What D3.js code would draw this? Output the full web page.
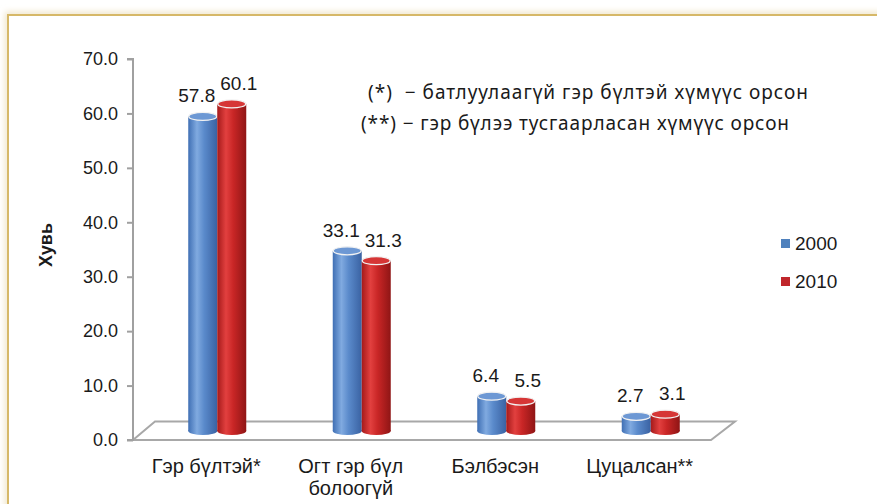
<!DOCTYPE html>
<html>
<head>
<meta charset="utf-8">
<script src="https://cdn.jsdelivr.net/npm/d3@7"></script>
<style>
  body { margin: 0; background: #fff; }
  text { font-family: "Liberation Sans", Arial, sans-serif; fill: #1a1a1a; }
</style>
</head>
<body>
<div id="chart"></div>
<script>
// Data
var categories = [["Гэр бүлтэй*"], ["Огт гэр бүл", "болоогүй"], ["Бэлбэсэн"], ["Цуцалсан**"]];
var series = ["2000", "2010"];
var values2000 = [57.8, 33.1, 6.4, 2.7];
var values2010 = [60.1, 31.3, 5.5, 3.1];
var yTicks = [0, 10, 20, 30, 40, 50, 60, 70];
var notes = ["(*)  \u2212 батлуулаагүй гэр бүлтэй хүмүүс орсон", "(**) \u2212 гэр бүлээ тусгаарласан хүмүүс орсон"];

var svgWidth = 877, svgHeight = 504;
var margin = { top: 59, left: 133, right: 166, bottom: 64 };
var width = svgWidth - margin.left - margin.right;
var height = svgHeight - margin.top - margin.bottom;

// 3d depth of the floor
var depthX = 22, depthY = -18.5;

var svg = d3.select("#chart").append("svg")
  .attr("width", svgWidth)
  .attr("height", svgHeight);

var defs = svg.append("defs");

// frame shadow + golden border
var sh = defs.append("filter").attr("id", "soft").attr("x", "-5%").attr("y", "-5%").attr("width", "110%").attr("height", "110%");
sh.append("feGaussianBlur").attr("stdDeviation", 3);
svg.append("rect").attr("x", 8).attr("y", 15).attr("width", 900).attr("height", 520)
  .attr("fill", "none").attr("stroke", "#efe3c4").attr("stroke-width", 6).attr("filter", "url(#soft)");
svg.append("rect").attr("x", 8).attr("y", 15).attr("width", 900).attr("height", 520)
  .attr("fill", "#fff").attr("stroke", "#d6b868").attr("stroke-width", 2);

// gradients for cylinders
function cylGrad(id, stops) {
  var g = defs.append("linearGradient").attr("id", id).attr("x1", "0%").attr("x2", "100%");
  stops.forEach(function (s) { g.append("stop").attr("offset", s[0]).attr("stop-color", s[1]); });
}
cylGrad("g2000", [["0%", "#3f6fb4"], ["30%", "#80aae0"], ["55%", "#5a8acb"], ["100%", "#3a62a2"]]);
cylGrad("g2010", [["0%", "#a51a1a"], ["30%", "#e2403f"], ["55%", "#c92626"], ["100%", "#8f1515"]]);
var topFill = { "2000": "#6d98d4", "2010": "#d63636" };
var legendFill = { "2000": "#4f81bd", "2010": "#c0262b" };

var chartGroup = svg.append("g").attr("transform", `translate(${margin.left}, ${margin.top})`);

// Scales
var x0 = d3.scaleBand().domain(d3.range(categories.length)).range([0, 578]);
var x1 = d3.scaleBand().domain(series).range([-29, 29]);
var yScale = d3.scaleLinear().domain([0, 70]).range([height, 0]);

// Floor
var y0 = yScale(0);
var floor = [[0, y0], [578, y0], [578 + depthX + 2, y0 + depthY], [depthX, y0 + depthY]];
chartGroup.append("path")
  .attr("d", "M" + floor.join("L") + "Z")
  .attr("fill", "#fff").attr("stroke", "#a8a8a8").attr("stroke-width", 2);

// Y axis
var leftAxis = d3.axisLeft(yScale).tickValues(yTicks).tickFormat(d3.format(".1f")).tickSize(6).tickPadding(9);
var yAxisG = chartGroup.append("g").call(leftAxis);
yAxisG.select(".domain").attr("stroke", "#a0a0a0").attr("stroke-width", 2).attr("d", `M-6,0H0V${y0}H-6`);
yAxisG.selectAll(".tick line").attr("stroke", "#a0a0a0").attr("stroke-width", 2);
yAxisG.selectAll(".tick text").style("font-size", "18px").attr("fill", "#1a1a1a");

// Bars (cylinders) at half depth
var bx = 12, by = -9;
var bars = [];
values2000.forEach(function (v, i) { bars.push({ cat: i, s: "2000", v: v }); });
values2010.forEach(function (v, i) { bars.push({ cat: i, s: "2010", v: v }); });
var ry = 4;
var barG = chartGroup.selectAll(".bar").data(bars).enter().append("g").attr("class", "bar");
barG.each(function (d) {
  var g = d3.select(this);
  var xl = x0(d.cat) + x0.bandwidth() / 2 + x1(d.s) + bx;
  var w = x1.bandwidth();
  var yt = yScale(d.v) + by, yb = y0 + by;
  g.append("rect").attr("x", xl).attr("y", yt).attr("width", w).attr("height", yb - yt)
    .attr("fill", `url(#g${d.s})`);
  g.append("ellipse").attr("cx", xl + w / 2).attr("cy", yb).attr("rx", w / 2).attr("ry", ry)
    .attr("fill", `url(#g${d.s})`);
  g.append("ellipse").attr("cx", xl + w / 2).attr("cy", yt).attr("rx", w / 2 - 0.5).attr("ry", ry)
    .attr("fill", topFill[d.s]).attr("stroke", "#f2f2f2").attr("stroke-width", 1.2);
  g.append("text")
    .attr("x", xl + w / 2 + (d.s === "2000" ? -6 : 7))
    .attr("y", yt - 14)
    .attr("text-anchor", "middle")
    .style("font-size", "19px")
    .text(d.v.toFixed(1));
});

// Category labels
var catG = chartGroup.selectAll(".cat").data(categories).enter().append("text")
  .attr("class", "cat")
  .attr("text-anchor", "middle")
  .attr("x", (d, i) => x0(i) + x0.bandwidth() / 2 + 1)
  .attr("y", y0 + 33)
  .style("font-size", "20px");
catG.selectAll("tspan").data(d => d).enter().append("tspan")
  .attr("x", function () { return d3.select(this.parentNode).attr("x"); })
  .attr("dy", (d, i) => i === 0 ? 0 : 22)
  .text(d => d);

// Y axis title
svg.append("text")
  .attr("transform", "translate(52, 245) rotate(-90)")
  .attr("text-anchor", "middle")
  .style("font-size", "18px").style("font-weight", "bold")
  .text("Хувь");

// Notes
var noteLen = [440, 428];
svg.selectAll(".note").data(notes).enter().append("text")
  .attr("class", "note")
  .attr("x", (d, i) => i === 0 ? 368 : 361)
  .attr("y", (d, i) => 99 + i * 31)
  .style("font-family", "'Noto Sans', 'Open Sans', sans-serif")
  .style("font-size", "19px")
  .attr("fill", "#222")
  .attr("textLength", (d, i) => noteLen[i])
  .attr("lengthAdjust", "spacing")
  .style("white-space", "pre")
  .text(d => d);

// Legend
var legend = svg.selectAll(".legend").data(series).enter().append("g")
  .attr("class", "legend")
  .attr("transform", (d, i) => `translate(781, ${239 + i * 38})`);
legend.append("rect").attr("width", 9).attr("height", 9).attr("fill", d => legendFill[d]);
legend.append("text").attr("x", 14).attr("y", 11).style("font-size", "19px").text(d => d);
</script>
</body>
</html>
